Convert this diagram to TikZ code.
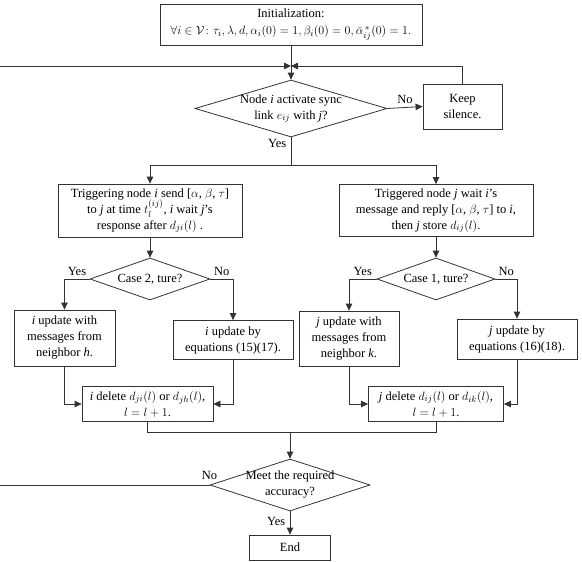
\documentclass[tikz,border=0pt]{standalone}
\usepackage{amsmath,amssymb}
\usepackage{fontspec}
\setmainfont{Liberation Serif}
\usetikzlibrary{arrows.meta,positioning,shapes.geometric}

\begin{document}
\begin{tikzpicture}[x=1pt,y=-1pt,line width=0.8pt,
    font=\fontsize{12.5}{16}\selectfont,
    block/.style={draw=black!80, rectangle, align=center, inner sep=0pt},
    decision/.style={draw=black!80, diamond, inner sep=0pt},
    flow/.style={draw=black!80, -{Triangle[length=7pt,width=6.5pt]}},
    link/.style={draw=black!80}]
  \useasboundingbox (0,0) rectangle (582,562);
  % Start
  \node[block, minimum width=262pt, minimum height=41pt] (init) at (291,24.5)
    {Initialization:\\[1pt] $\forall i\in\mathcal{V}\colon \tau_i,\lambda,d,\alpha_i(0)=1,\beta_i(0)=0,\bar{\alpha}^{\,*}_{ij}(0)=1.$};
  \coordinate (join) at (291,66);
  \node[decision, minimum width=192pt, minimum height=57pt,
    label={[align=center]center:Node \textit{i} activate sync\\link $e_{ij}$ with \textit{j}?}] (sync) at (291,108.5) {};
  \node[block, minimum width=79pt, minimum height=45pt] (keep) at (462.5,106.5) {Keep\\silence.};
  \coordinate (fork) at (291,165);
  % Two sides of the link
  \node[block, minimum width=184pt, minimum height=53pt] (trig) at (150,210.5)
    {Triggering node \textit{i} send [$\alpha$, $\beta$, $\tau$]\\to \textit{j} at time $t_l^{(ij)}$, \textit{i} wait \textit{j}'s\\response after $d_{ji}(l)$ .};
  \node[block, minimum width=194pt, minimum height=52pt] (trgd) at (436,210.5)
    {Triggered node \textit{j} wait \textit{i}'s\\message and reply [$\alpha$, $\beta$, $\tau$] to \textit{i},\\then \textit{j} store $d_{ij}(l)$.};
  \node[decision, minimum width=120pt, minimum height=42pt,
    label={center:Case 2, ture?}] (case2) at (150,279) {};
  \node[decision, minimum width=118pt, minimum height=42pt,
    label={center:Case 1, ture?}] (case1) at (436,279) {};
  % Updates
  \node[block, minimum width=101pt, minimum height=56pt] (iwith) at (64.5,338)
    {\textit{i} update with\\messages from\\neighbor \textit{h}.};
  \node[block, minimum width=120pt, minimum height=39pt] (iby) at (233,340)
    {\textit{i} update by\\equations (15)(17).};
  \node[block, minimum width=100pt, minimum height=55pt] (jwith) at (349,338.5)
    {\textit{j} update with\\messages from\\neighbor \textit{k}.};
  \node[block, minimum width=120pt, minimum height=40pt] (jby) at (517,339)
    {\textit{j} update by\\equations (16)(18).};
  \node[block, minimum width=131pt, minimum height=35pt] (idel) at (147.5,404)
    {\textit{i} delete $d_{ji}(l)$ or $d_{jh}(l)$,\\$l=l+1$.};
  \node[block, minimum width=135pt, minimum height=35pt] (jdel) at (436,404)
    {\textit{j} delete $d_{ij}(l)$ or $d_{ik}(l)$,\\$l=l+1$.};
  \coordinate (mrg) at (290,432);
  % Check and end
  \node[decision, minimum width=160pt, minimum height=52pt,
    label={[align=center]center:Meet the required\\accuracy?}] (meet) at (290,485) {};
  \node[block, minimum width=81pt, minimum height=25pt] (endb) at (290,547.5) {End};

  % Connectors
  \draw[link] (init.south) -- (join);
  \draw[flow] (join) -- (sync.north);
  \draw[flow] (sync.east) -- node[above] {No} (keep.west);
  \draw[flow] (keep.north) |- (join);
  \draw[link] (sync.south) -- node[pos=0.22, left=1pt] {Yes} (fork);
  \draw[flow] (fork) -| (trig.north);
  \draw[flow] (fork) -| (trgd.north);
  \draw[flow] (trig.south) -- (case2.north);
  \draw[flow] (trgd.south) -- (case1.north);
  \draw[flow] (case2.west) -| node[pos=0.25, above] {Yes} (iwith.north);
  \draw[flow] (case2.east) -| node[pos=0.25, above] {No} (iby.north);
  \draw[flow] (case1.west) -| node[pos=0.25, above] {Yes} (jwith.north);
  \draw[flow] (case1.east) -| node[pos=0.25, above] {No} (jby.north);
  \draw[flow] (iwith.south) |- (idel.west);
  \draw[flow] (iby.south) |- (idel.east);
  \draw[flow] (jwith.south) |- (jdel.west);
  \draw[flow] (jby.south) |- (jdel.east);
  \draw[link] (idel.south) |- (mrg);
  \draw[link] (jdel.south) |- (mrg);
  \draw[flow] (mrg) -- (meet.north);
  \draw[flow] (meet.west) -- node[pos=0, above, yshift=2pt] {No} (-3,485) |- (join);
  \draw[flow] (meet.south) -- node[pos=0.45, left=1pt] {Yes} (endb.north);
\end{tikzpicture}
\end{document}
